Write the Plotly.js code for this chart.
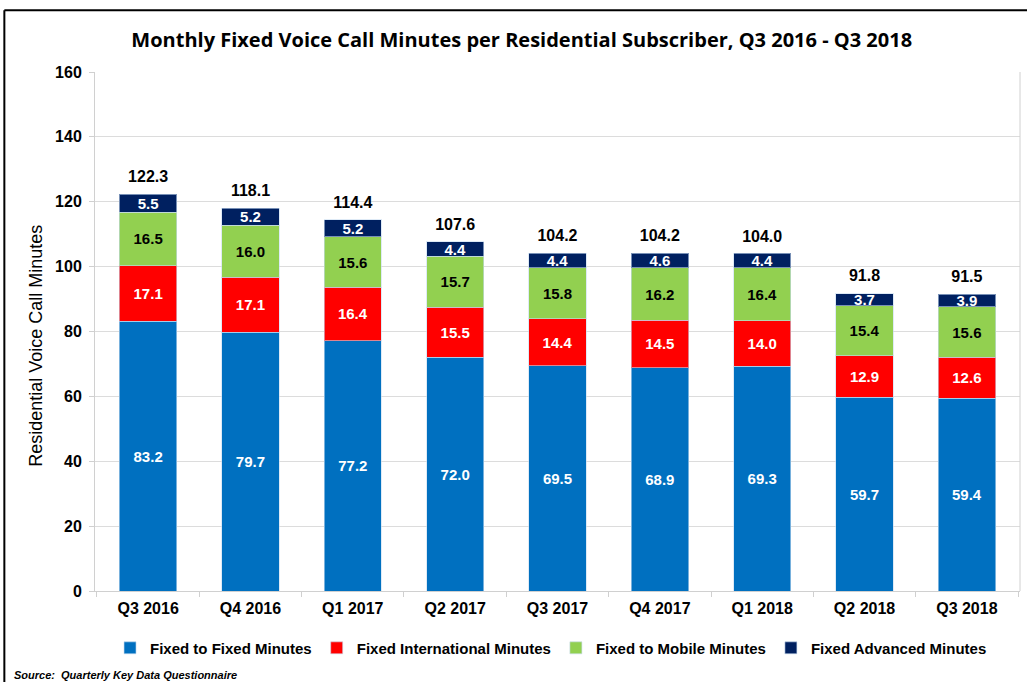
<!DOCTYPE html>
<html>
<head>
<meta charset="utf-8">
<script src="https://cdn.plot.ly/plotly-3.0.1.min.js"></script>
<style>html,body{margin:0;padding:0;background:#fff;}#chart{width:1027px;height:682px;}</style>
</head>
<body>
<div id="chart"></div>
<script>
const categories = ["Q3 2016","Q4 2016","Q1 2017","Q2 2017","Q3 2017","Q4 2017","Q1 2018","Q2 2018","Q3 2018"];
const fixedToFixed = [83.2, 79.7, 77.2, 72.0, 69.5, 68.9, 69.3, 59.7, 59.4];
const fixedInternational = [17.1, 17.1, 16.4, 15.5, 14.4, 14.5, 14.0, 12.9, 12.6];
const fixedToMobile = [16.5, 16.0, 15.6, 15.7, 15.8, 16.2, 16.4, 15.4, 15.6];
const fixedAdvanced = [5.5, 5.2, 5.2, 4.4, 4.4, 4.6, 4.4, 3.7, 3.9];
const totals = [122.3, 118.1, 114.4, 107.6, 104.2, 104.2, 104.0, 91.8, 91.5];

const F = 'Liberation Sans, Arial, sans-serif';
function barTrace(name, vals, color, txtColor){
  return {
    type:'bar', name:name, x:categories, y:vals,
    marker:{color:color, line:{color:'rgba(200,220,240,0.6)', width:1}},
    text: vals.map(v=>v.toFixed(1)), textposition:'inside', insidetextanchor:'middle',
    textfont:{family:F, size:15, color:txtColor, weight:'bold'},
    constraintext:'none', hoverinfo:'y'
  };
}
const traces = [
  barTrace('Fixed to Fixed Minutes', fixedToFixed, '#0070C0', '#ffffff'),
  barTrace('Fixed International Minutes', fixedInternational, '#FF0000', '#ffffff'),
  barTrace('Fixed to Mobile Minutes', fixedToMobile, '#92D050', '#000000'),
  barTrace('Fixed Advanced Minutes', fixedAdvanced, '#002060', '#ffffff'),
  {type:'scatter', mode:'markers+text', x:categories, y:totals, text:totals.map(v=>v.toFixed(1)),
   marker:{size:11, opacity:0},
   textposition:'top center', textfont:{family:F, size:16, color:'#000', weight:'bold'},
   showlegend:false, hoverinfo:'skip', cliponaxis:false}
];
const layout = {
  width:1027, height:682,
  margin:{l:95, r:7, t:72, b:91, autoexpand:false},
  paper_bgcolor:'#fff', plot_bgcolor:'#fff',
  barmode:'stack', bargap:0.44,
  title:{text:'Monthly Fixed Voice Call Minutes per Residential Subscriber, Q3 2016 - Q3 2018',
    font:{family:'Open Sans, sans-serif', size:20, color:'#000', weight:'bold'},
    x:0.508, xanchor:'center', xref:'container', y:0.941, yanchor:'middle'},
  xaxis:{type:'category', automargin:false, tickfont:{family:F, size:16, color:'#000', weight:'bold'},
    showline:true, linecolor:'#d0d0d0', linewidth:1, ticks:'outside', tickcolor:'#d0d0d0', ticklen:5,
    ticklabelstandoff:3, tickson:'boundaries', showgrid:false, mirror:false},
  yaxis:{range:[0,160], dtick:20, automargin:false, tickfont:{family:F, size:16, color:'#000', weight:'bold'},
    showgrid:true, gridcolor:'#dcdcdc', gridwidth:1, showline:true, linecolor:'#d0d0d0',
    ticks:'outside', tickcolor:'#d0d0d0', ticklen:5, ticklabelstandoff:4, zeroline:false},
  legend:{orientation:'h', x:0.493, xanchor:'center', y:-0.11, yanchor:'middle', traceorder:'normal',
    font:{family:F, size:15, color:'#000', weight:'bold'}, itemwidth:30},
  shapes:[
    {type:'line', xref:'paper', yref:'paper', x0:1, x1:1, y0:0, y1:1, line:{color:'#d0d0d0', width:1}},
    {type:'line', xref:'paper', yref:'paper', x0:-0.098, x1:1.2, y0:1.119, y1:1.119, line:{color:'#000', width:2}},
    {type:'line', xref:'paper', yref:'paper', x0:-0.098, x1:-0.098, y0:1.119, y1:-0.2, line:{color:'#000', width:2}}
  ],
  annotations:[
    {text:'Residential Voice Call Minutes', xref:'paper', yref:'paper', x:-0.064, y:0.472,
     textangle:-90, xanchor:'center', yanchor:'middle', showarrow:false,
     font:{family:F, size:18, color:'#000'}},
    {text:'Source:  Quarterly Key Data Questionnaire', xref:'paper', yref:'paper', x:-0.09, y:-0.162,
     xanchor:'left', yanchor:'middle', showarrow:false,
     font:{family:F, size:11, color:'#000', weight:'bold', style:'italic'}}
  ]
};
Plotly.newPlot('chart', traces, layout, {displayModeBar:false, staticPlot:true});
</script>
</body>
</html>
